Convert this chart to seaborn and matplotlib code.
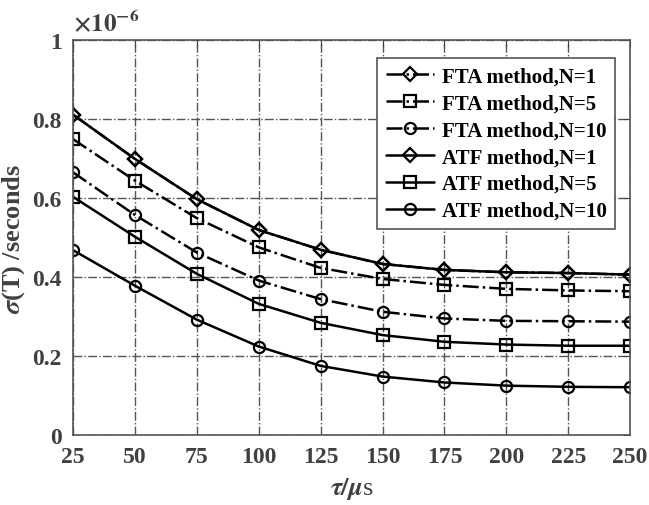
import matplotlib
matplotlib.use("Agg")
import matplotlib.pyplot as plt
import seaborn as sns
import pandas as pd

tau = [25, 50, 75, 100, 125, 150, 175, 200, 225, 250]
fta_n1 = [0.811, 0.699, 0.597, 0.519, 0.469, 0.433, 0.418, 0.412, 0.410, 0.406]
fta_n5 = [0.749, 0.644, 0.549, 0.475, 0.423, 0.395, 0.380, 0.370, 0.366, 0.364]
fta_n10 = [0.665, 0.557, 0.462, 0.391, 0.344, 0.312, 0.295, 0.289, 0.288, 0.287]
atf_n1 = [0.811, 0.699, 0.597, 0.519, 0.469, 0.433, 0.418, 0.412, 0.410, 0.406]
atf_n5 = [0.603, 0.502, 0.408, 0.332, 0.284, 0.253, 0.236, 0.229, 0.226, 0.226]
atf_n10 = [0.468, 0.378, 0.292, 0.224, 0.175, 0.148, 0.133, 0.125, 0.122, 0.121]

labels = ["FTA method,N=1", "FTA method,N=5", "FTA method,N=10",
          "ATF method,N=1", "ATF method,N=5", "ATF method,N=10"]
series = [fta_n1, fta_n5, fta_n10, atf_n1, atf_n5, atf_n10]
markers = ["D", "s", "o", "D", "s", "o"]
styles = ["-.", "-.", "-.", "-", "-", "-"]
xticks = [25, 50, 75, 100, 125, 150, 175, 200, 225, 250]
yticks = [0, 0.2, 0.4, 0.6, 0.8, 1]

sns.set_style("white")
plt.rcParams["font.family"] = ["Liberation Serif", "DejaVu Serif"]
plt.rcParams["mathtext.fontset"] = "stix"
plt.rcParams["font.weight"] = "bold"

tc = "#404040"
fig = plt.figure(figsize=(6.49, 5.06), dpi=100)
ax = fig.add_axes([0.1125, 0.1383, 0.8585, 0.7807])

for lab, ys, mk, ls in zip(labels, series, markers, styles):
    df = pd.DataFrame({"tau": tau, "sigma": ys})
    sns.lineplot(data=df, x="tau", y="sigma", ax=ax, color="black",
                 linestyle=ls, marker=mk, markersize=8 if mk != "D" else 7.5,
                 markerfacecolor="none", markeredgecolor="black",
                 markeredgewidth=1.6, linewidth=1.8, label=lab)

ax.set_xlim(25, 250)
ax.set_ylim(0, 1)
ax.set_xticks(xticks)
ax.set_xticklabels([str(t) for t in xticks])
ax.set_yticks(yticks)
ax.set_yticklabels(["0", "0.2", "0.4", "0.6", "0.8", "1"])
ax.grid(True, linestyle="-.", color="#555555", linewidth=1.0)
ax.tick_params(direction="in", top=True, right=True, length=5,
               colors=tc, labelsize=17, pad=8)
for t in ax.get_xticklabels() + ax.get_yticklabels():
    t.set_fontweight("bold")
    t.set_color(tc)
for s in ax.spines.values():
    s.set_visible(True)
    s.set_color("#555555")
    s.set_linewidth(1.2)

ax.set_xlabel(r"$\tau/\mu$s", fontsize=19, color=tc, fontweight="normal",
              labelpad=6)
ax.set_ylabel(r"$\sigma$(T) /seconds", fontsize=19, color=tc,
              fontweight="bold")
ax.yaxis.set_label_coords(-0.083, 0.5)
ax.text(0.0, 1.012, r"$\times 10^{\mathbf{-6}}$", transform=ax.transAxes,
        fontsize=18, color=tc, ha="left", va="bottom")

leg = ax.legend(loc="upper right", bbox_to_anchor=(0.973, 0.954),
                borderaxespad=0, fontsize=15, frameon=True, fancybox=False,
                handlelength=2.3, handletextpad=0.4, labelspacing=0.33,
                borderpad=0.4)
leg.get_frame().set_edgecolor("#555555")
leg.get_frame().set_linewidth(1.2)
leg.get_frame().set_alpha(1)
for t in leg.get_texts():
    t.set_fontweight("bold")
    t.set_color("black")

fig.savefig("out.png", dpi=100)
